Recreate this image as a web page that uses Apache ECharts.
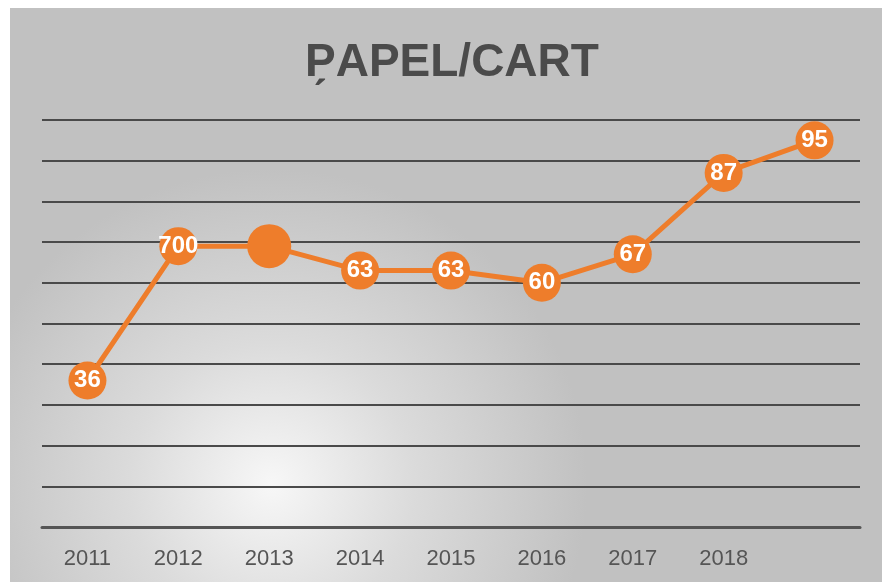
<!DOCTYPE html>
<html>
<head>
<meta charset="utf-8">
<script src="https://cdn.jsdelivr.net/npm/echarts@6/dist/echarts.min.js"></script>
<style>
html,body{margin:0;padding:0;background:#fff;}
#chart{width:882px;height:582px;}
</style>
</head>
<body>
<div id="chart"></div>
<script>
var categories = ['2011','2012','2013','2014','2015','2016','2017','2018',''];
var values = [36, 69, 69, 63, 63, 60, 67, 87, 95];
var pointLabels = ['36','700','','63','63','60','67','87','95'];
var titleText = 'P\u0317APEL/CART';

var chart = echarts.init(document.getElementById('chart'));
var seriesData = values.map(function(v, i){
  var item = {value: v, label: {formatter: pointLabels[i]}};
  if (pointLabels[i] === '') { item.symbolSize = 44; }
  return item;
});
chart.setOption({
  animation: false,
  backgroundColor: '#ffffff',
  graphic: [{
    type: 'rect', z: -10, silent: true,
    shape: {x: 10, y: 8, width: 872, height: 574},
    style: {
      fill: {
        type: 'radial', x: 0.3, y: 0.83, r: 0.55,
        colorStops: [
          {offset: 0, color: '#f7f7f7'},
          {offset: 0.45, color: '#dbdbdb'},
          {offset: 1, color: '#c1c1c1'}
        ]
      }
    }
  }],
  title: {
    text: titleText, left: 300, top: 35,
    textStyle: {fontFamily: 'Liberation Sans, Arial, sans-serif', fontSize: 46, fontWeight: 'bold', color: '#4b4b4b'}
  },
  grid: {left: 42, right: 22, top: 120, bottom: 55},
  xAxis: {
    type: 'category', data: categories, boundaryGap: true,
    axisLine: {show: true, lineStyle: {color: '#555555', width: 3}},
    axisTick: {show: false},
    axisLabel: {margin: 21, fontSize: 22, color: '#555555', fontFamily: 'Liberation Sans, Arial, sans-serif'}
  },
  yAxis: {
    type: 'value', min: 0, max: 100, interval: 10,
    axisLabel: {show: false}, axisLine: {show: false}, axisTick: {show: false},
    splitLine: {lineStyle: {color: '#4a4a4a', width: 2}}
  },
  series: [{
    type: 'line', data: seriesData,
    symbol: 'circle', symbolSize: 38,
    lineStyle: {color: '#EE7D2B', width: 5},
    itemStyle: {color: '#EE7D2B'},
    label: {
      show: true, position: 'inside', color: '#ffffff', fontSize: 24, fontWeight: 'bold',
      fontFamily: 'Liberation Sans, Arial, sans-serif'
    }
  }]
});
</script>
</body>
</html>
